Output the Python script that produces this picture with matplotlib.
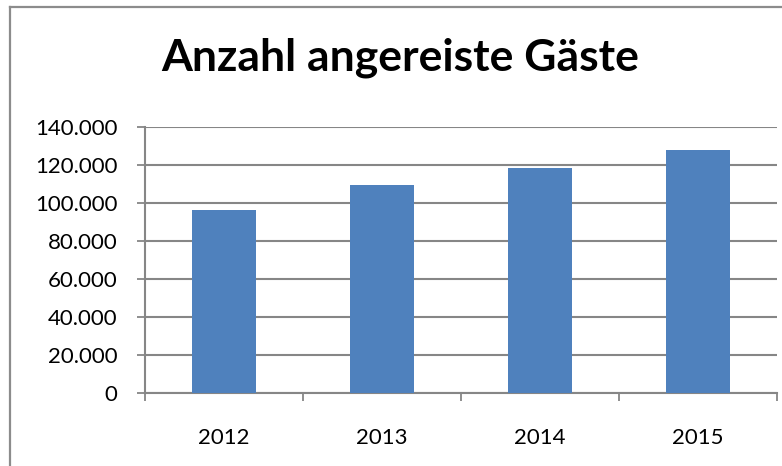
import matplotlib
matplotlib.use("Agg")
import matplotlib.pyplot as plt
from matplotlib.lines import Line2D
from matplotlib.ticker import FuncFormatter

# Data
years = ["2012", "2013", "2014", "2015"]
guests = [96100, 109400, 118400, 128000]
y_ticks = [0, 20000, 40000, 60000, 80000, 100000, 120000, 140000]

plt.rcParams['font.family'] = ['Lato', 'DejaVu Sans']

fig = plt.figure(figsize=(7.82, 4.66), dpi=100)
ax = fig.add_axes([145 / 782, 1 - 393 / 466, 632 / 782, 266 / 466])

grid_col = '#868686'
x = range(len(years))
ax.bar(x, guests, width=0.41, color='#4F81BD', zorder=3)

ax.set_xlim(-0.5, len(years) - 0.5)
ax.set_ylim(0, 140000)
ax.set_yticks(y_ticks)
ax.yaxis.set_major_formatter(FuncFormatter(lambda v, p: f"{int(v):,}".replace(",", ".")))
ax.set_xticks(list(x))
ax.set_xticklabels(years)
# ticks at category boundaries
ax.set_xticks([i - 0.5 for i in range(len(years) + 1)], minor=True)
ax.tick_params(axis='x', which='major', length=0, pad=25, labelsize=16)
ax.tick_params(axis='x', which='minor', length=6, width=1.3, color=grid_col, direction='out')
ax.tick_params(axis='y', length=6, width=1.3, color=grid_col, pad=14, labelsize=16)

ax.grid(axis='y', color=grid_col, linewidth=1.5, zorder=0)
for s in ['top', 'right']:
    ax.spines[s].set_visible(False)
for s in ['left', 'bottom']:
    ax.spines[s].set_color(grid_col)
    ax.spines[s].set_linewidth(1.5)

fig.text(400 / 782, 1 - 58 / 466, "Anzahl angereiste Gäste", ha='center', va='center',
         fontsize=32, fontweight='bold')

# chart border (top and left visible)
fig.add_artist(Line2D([9.5 / 782, 9.5 / 782], [0, 1 - 6.5 / 466], color='#8C8C8C', lw=1.6))
fig.add_artist(Line2D([9.5 / 782, 1], [1 - 6.5 / 466, 1 - 6.5 / 466], color='#8C8C8C', lw=1.6))

fig.savefig("out.png", dpi=100, facecolor='white')
